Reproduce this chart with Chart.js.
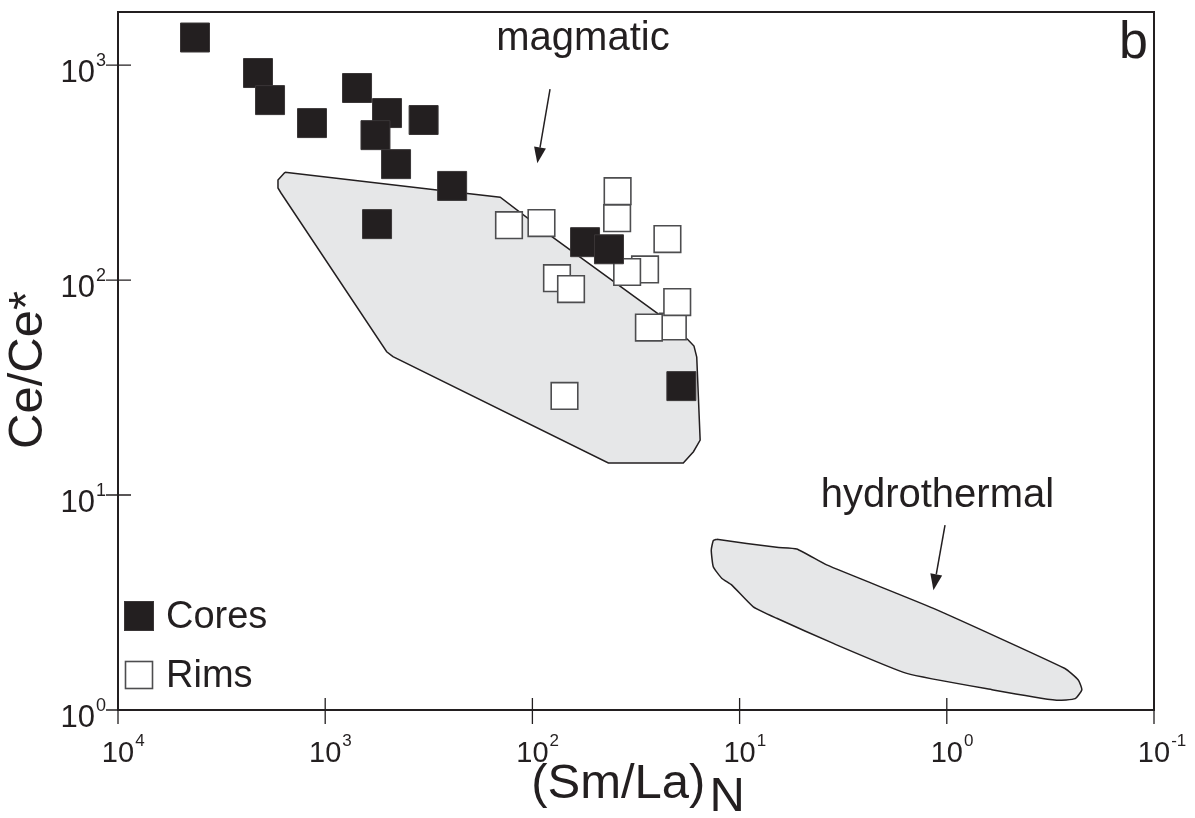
<!DOCTYPE html>
<html>
<head>
<meta charset="utf-8">
<script src="https://cdn.jsdelivr.net/npm/chart.js@4.4.0/dist/chart.umd.min.js"></script>
<style>
  html, body { margin: 0; padding: 0; background: #fff; }
</style>
</head>
<body>
<canvas id="grafik" width="1195" height="818"></canvas>
<script>
// Data titik
const coresX = [4250, 2110, 1846, 1158, 702, 503, 335, 572, 455, 244, 562, 55.7, 42.7, 19.1];
const coresY = [1343, 918, 687, 537, 782, 598, 555, 472, 346, 274, 182, 150, 139, 32.1];

const rimsX = [129.7, 90.4, 38.8, 39.0, 22.3, 28.6, 34.9, 76.1, 65.1, 21.0, 20.0, 27.4, 70.0];
const rimsY = [180, 184, 259, 194, 155, 112, 109, 102, 90.8, 60.8, 79.0, 60.1, 28.9];

// Bidang magmatic dan hydrothermal
const magmaX = [1563, 1690, 1690, 1634, 505, 471, 43.0, 18.7, 16.7, 15.5, 16.1, 16.6, 17.7, 25.0, 79.6, 143, 289, 1563];
const magmaY = [317, 292, 268, 254, 46.4, 44.0, 14.1, 14.1, 15.9, 18.0, 43.8, 49.3, 52.6, 70.2, 158, 243, 262, 317];

const hydroX = [12.9, 13.4, 13.7, 13.4, 12.2, 10.9, 8.59, 6.62, 3.53, 1.56, 0.597, 0.295, 0.240, 0.223, 0.232, 0.269, 1.16, 3.80, 5.30, 6.62, 12.9];
const hydroY = [6.22, 6.13, 5.55, 4.64, 4.10, 3.81, 3.02, 2.67, 2.04, 1.48, 1.24, 1.11, 1.13, 1.24, 1.38, 1.56, 2.97, 4.73, 5.61, 5.71, 6.22];

// Label sumbu
const xTicks = [10000, 1000, 100, 10, 1, 0.1];
const xExp = ['4', '3', '2', '1', '0', '-1'];
const yTicks = [1, 10, 100, 1000];
const yExp = ['0', '1', '2', '3'];

// Keterangan bidang: teks dan panah (koordinat data)
const labelText = ['magmatic', 'hydrothermal'];
const labelX = [57, 1.11];
const labelY = [1175, 8.8];
const arrowFromX = [82.2, 1.02];
const arrowFromY = [773, 7.25];
const arrowToX = [94.7, 1.16];
const arrowToY = [349, 3.61];

const hitam = '#231f20';
const fontUtama = '"Liberation Sans", Arial, sans-serif';

function gabung(xs, ys) {
  return xs.map((x, i) => ({ x: x, y: ys[i] }));
}

// Plugin gambar bingkai, tick, label, legenda
const dekorasi = {
  id: 'dekorasi',
  afterDatasetsDraw(chart) {
    const ctx = chart.ctx;
    const area = chart.chartArea;
    const sx = chart.scales.x;
    const sy = chart.scales.y;
    ctx.save();
    ctx.strokeStyle = hitam;
    ctx.fillStyle = hitam;

    // bingkai
    ctx.lineWidth = 2;
    ctx.strokeRect(area.left, area.top, area.right - area.left, area.bottom - area.top);

    // tick memotong sumbu
    ctx.lineWidth = 1.3;
    ctx.beginPath();
    xTicks.forEach(v => {
      const px = sx.getPixelForValue(v);
      ctx.moveTo(px, area.bottom - 12);
      ctx.lineTo(px, area.bottom + 14);
    });
    yTicks.forEach(v => {
      const py = sy.getPixelForValue(v);
      ctx.moveTo(area.left - 12, py);
      ctx.lineTo(area.left + 13, py);
    });
    ctx.stroke();

    // label tick x
    ctx.textBaseline = 'alphabetic';
    xTicks.forEach((v, i) => {
      const px = sx.getPixelForValue(v);
      ctx.font = '29px ' + fontUtama;
      const w10 = ctx.measureText('10').width;
      ctx.textAlign = 'left';
      ctx.fillText('10', px - w10 / 2, area.bottom + 52);
      ctx.font = '17px ' + fontUtama;
      ctx.fillText(xExp[i], px + w10 / 2 + 1, area.bottom + 36);
    });

    // label tick y
    yTicks.forEach((v, i) => {
      const py = sy.getPixelForValue(v);
      ctx.font = '18px ' + fontUtama;
      const we = ctx.measureText(yExp[i]).width;
      const kanan = area.left - 12;
      ctx.textAlign = 'right';
      ctx.fillText(yExp[i], kanan, py + 1);
      ctx.font = '31px ' + fontUtama;
      ctx.fillText('10', kanan - we - 1, py + 17);
    });

    // judul sumbu x dengan subskrip N
    ctx.font = '49px ' + fontUtama;
    const teksX = '(Sm/La)';
    const wA = ctx.measureText(teksX).width;
    const wN = ctx.measureText('N').width;
    const mulai = (area.left + area.right) / 2 - (wA + wN) / 2;
    ctx.textAlign = 'left';
    ctx.fillText(teksX, mulai, area.bottom + 88);
    ctx.fillText('N', mulai + wA + 4, area.bottom + 101);

    // judul sumbu y
    ctx.save();
    ctx.translate(28, 370);
    ctx.rotate(-Math.PI / 2);
    ctx.textAlign = 'center';
    ctx.textBaseline = 'middle';
    ctx.fillText('Ce/Ce*', 0, 0);
    ctx.restore();

    // huruf panel
    ctx.font = '52px ' + fontUtama;
    ctx.textAlign = 'right';
    ctx.fillText('b', area.right - 6, area.top + 46);

    // teks bidang dan panah
    ctx.font = '40px ' + fontUtama;
    ctx.textAlign = 'center';
    labelText.forEach((t, i) => {
      ctx.fillText(t, sx.getPixelForValue(labelX[i]), sy.getPixelForValue(labelY[i]));
      const x1 = sx.getPixelForValue(arrowFromX[i]);
      const y1 = sy.getPixelForValue(arrowFromY[i]);
      const x2 = sx.getPixelForValue(arrowToX[i]);
      const y2 = sy.getPixelForValue(arrowToY[i]);
      const sudut = Math.atan2(y2 - y1, x2 - x1);
      const pj = 16, lb = 6;
      const bx = x2 - pj * Math.cos(sudut);
      const by = y2 - pj * Math.sin(sudut);
      ctx.lineWidth = 1.5;
      ctx.beginPath();
      ctx.moveTo(x1, y1);
      ctx.lineTo(bx, by);
      ctx.stroke();
      ctx.beginPath();
      ctx.moveTo(x2, y2);
      ctx.lineTo(bx + lb * Math.sin(sudut), by - lb * Math.cos(sudut));
      ctx.lineTo(bx - lb * Math.sin(sudut), by + lb * Math.cos(sudut));
      ctx.closePath();
      ctx.fill();
    });

    // legenda
    const ds = chart.data.datasets;
    const legY = [616, 675];
    ctx.font = '38px ' + fontUtama;
    ctx.textAlign = 'left';
    ctx.textBaseline = 'alphabetic';
    [0, 1].forEach(i => {
      const d = ds[i];
      const sisi = d.legendSide;
      ctx.fillStyle = d.backgroundColor;
      ctx.strokeStyle = d.borderColor;
      ctx.lineWidth = d.borderWidth;
      ctx.fillRect(139 - sisi / 2, legY[i] - sisi / 2, sisi, sisi);
      ctx.strokeRect(139 - sisi / 2, legY[i] - sisi / 2, sisi, sisi);
      ctx.fillStyle = hitam;
      ctx.fillText(d.label, 166, legY[i] + 12);
    });

    ctx.restore();
  }
};

const ctx = document.getElementById('grafik').getContext('2d');
const grafik = new Chart(ctx, {
  type: 'scatter',
  data: {
    datasets: [{
      label: 'Cores',
      data: gabung(coresX, coresY),
      pointStyle: 'rect',
      pointRadius: 20.5,
      backgroundColor: hitam,
      borderColor: '#3a3637',
      borderWidth: 1,
      legendSide: 29,
      order: 0
    }, {
      label: 'Rims',
      data: gabung(rimsX, rimsY),
      pointStyle: 'rect',
      pointRadius: 18.8,
      backgroundColor: '#ffffff',
      borderColor: '#4d4d4f',
      borderWidth: 1.6,
      legendSide: 27,
      order: 1
    }, {
      type: 'line',
      label: 'magmatic',
      data: gabung(magmaX, magmaY),
      pointRadius: 0,
      borderColor: hitam,
      borderWidth: 1.5,
      backgroundColor: '#e6e7e8',
      fill: 'shape',
      tension: 0,
      order: 2
    }, {
      type: 'line',
      label: 'hydrothermal',
      data: gabung(hydroX, hydroY),
      pointRadius: 0,
      borderColor: hitam,
      borderWidth: 1.5,
      backgroundColor: '#e6e7e8',
      fill: 'shape',
      tension: 0.15,
      order: 3
    }]
  },
  options: {
    responsive: false,
    animation: false,
    devicePixelRatio: 1,
    layout: {
      autoPadding: false,
      padding: { left: 118, right: 41, top: 12, bottom: 108 }
    },
    plugins: {
      legend: { display: false },
      tooltip: { enabled: false }
    },
    elements: { point: { hoverRadius: 0 } },
    scales: {
      x: {
        type: 'logarithmic',
        display: false,
        reverse: true,
        min: 0.1,
        max: 10000
      },
      y: {
        type: 'logarithmic',
        display: false,
        min: 1,
        max: 1765
      }
    }
  },
  plugins: [dekorasi]
});
</script>
</body>
</html>
